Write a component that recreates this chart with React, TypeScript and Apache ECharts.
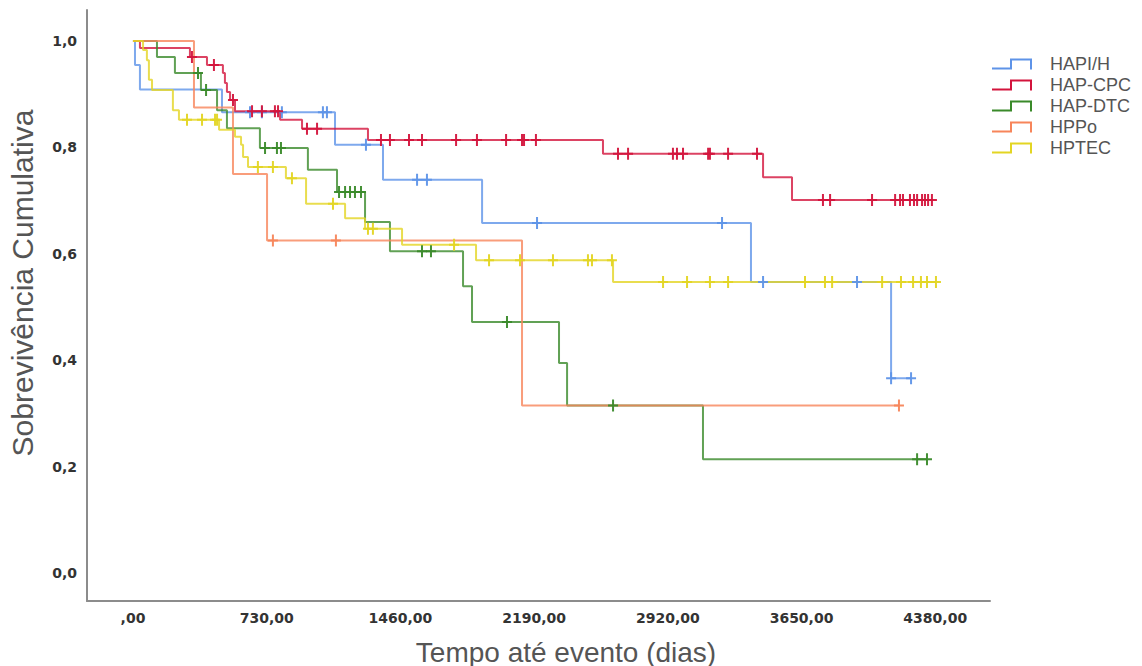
import React, { useEffect, useRef } from 'react';
import * as echarts from 'echarts';

// ---- data (days, cumulative survival) ----
const groupNames = ['HAPI/H', 'HAP-CPC', 'HAP-DTC', 'HPPo', 'HPTEC'];

const hapihTimes = [0, 11, 38, 486, 1103, 1365, 1906, 3374, 4139];
const hapihSurv = [1, 0.955, 0.909, 0.866, 0.805, 0.739, 0.658, 0.547, 0.366];
const hapihCensored = [639, 704, 813, 1037, 1059, 1272, 1551, 1605, 2206, 3216, 3440, 3953, 4139, 4248];

const hapcpcTimes = [0, 38, 311, 404, 491, 502, 513, 530, 557, 803, 923, 1283, 2566, 3440, 3598];
const hapcpcSurv = [1, 0.987, 0.97, 0.955, 0.94, 0.921, 0.904, 0.889, 0.868, 0.852, 0.835, 0.814, 0.788, 0.744, 0.701];
const hapcpcCensored = [322, 442, 546, 650, 704, 775, 792, 950, 1005, 1354, 1403, 1507, 1578, 1764, 1878, 2037, 2124, 2135, 2200, 2648, 2703, 2948, 2970, 3003, 3140, 3150, 3249, 3407, 3767, 3806, 4035, 4161, 4188, 4204, 4242, 4264, 4281, 4308, 4324, 4341, 4362];

const hapdtcTimes = [0, 131, 229, 371, 459, 513, 693, 955, 1114, 1267, 1403, 1802, 1851, 2326, 2370, 3112];
const hapdtcSurv = [1, 0.97, 0.94, 0.908, 0.87, 0.836, 0.799, 0.758, 0.716, 0.66, 0.605, 0.539, 0.472, 0.395, 0.315, 0.214];
const hapdtcCensored = [355, 399, 721, 786, 808, 1125, 1158, 1185, 1212, 1245, 1578, 1627, 2042, 2621, 4281, 4335];

const hppoTimes = [0, 333, 546, 732, 2124];
const hppoSurv = [1, 0.875, 0.75, 0.625, 0.315];
const hppoCensored = [764, 1108, 4182];

const hptecTimes = [0, 55, 76, 87, 104, 218, 251, 470, 557, 590, 601, 628, 835, 945, 1158, 1267, 1469, 1873, 2621];
const hptecSurv = [1, 0.983, 0.964, 0.927, 0.908, 0.87, 0.852, 0.833, 0.82, 0.805, 0.782, 0.763, 0.742, 0.694, 0.667, 0.647, 0.617, 0.588, 0.547];
const hptecCensored = [295, 377, 448, 459, 682, 764, 868, 1092, 1283, 1310, 1753, 1944, 2113, 2293, 2484, 2506, 2615, 2894, 3025, 3150, 3249, 3669, 3778, 3817, 4090, 4193, 4259, 4302, 4335, 4384];

const xTicks = [0, 730, 1460, 2190, 2920, 3650, 4380];
const yTicks = [0, 0.2, 0.4, 0.6, 0.8, 1.0];

const groupColors = ['#5e93e8', '#d3143c', '#3a8a2a', '#f7855a', '#e3d523'];

const groups = [
  { times: hapihTimes, surv: hapihSurv, cens: hapihCensored },
  { times: hapcpcTimes, surv: hapcpcSurv, cens: hapcpcCensored },
  { times: hapdtcTimes, surv: hapdtcSurv, cens: hapdtcCensored },
  { times: hppoTimes, surv: hppoSurv, cens: hppoCensored },
  { times: hptecTimes, surv: hptecSurv, cens: hptecCensored },
];

function survAt(times: number[], surv: number[], t: number): number {
  let v = surv[0];
  for (let i = 0; i < times.length; i++) {
    if (times[i] <= t) v = surv[i];
  }
  return v;
}

const stepIcon = 'path://M0,9L18,9L18,0L40,0L40,11L38,11L38,2L20,2L20,11L0,11Z';
const plusSymbol = 'path://M4,0L6,0L6,5L10,5L10,7L6,7L6,12L4,12L4,7L0,7L0,5L4,5Z';

export default function App() {
  const ref = useRef<HTMLDivElement>(null);

  useEffect(() => {
    if (!ref.current) return;
    const chart = echarts.init(ref.current, null, { renderer: 'svg' });

    const lineSeries = groups.map((g, i) => {
      const lastT = Math.max(g.times[g.times.length - 1], g.cens[g.cens.length - 1]);
      const data = g.times.map((t, k) => [t, g.surv[k]]);
      data.push([lastT, g.surv[g.surv.length - 1]]);
      return {
        name: groupNames[i],
        type: 'line',
        step: 'end',
        data,
        showSymbol: false,
        symbol: 'none',
        lineStyle: { color: groupColors[i], width: 2, opacity: 0.8 },
        itemStyle: { color: groupColors[i] },
        z: 2,
        silent: true,
      };
    });

    const censorSeries = groups.map((g, i) => ({
      name: groupNames[i] + ' (censurado)',
      type: 'scatter',
      data: g.cens.map((t) => [t, survAt(g.times, g.surv, t)]),
      symbol: plusSymbol,
      symbolSize: [10, 12],
      itemStyle: { color: groupColors[i], opacity: 0.95 },
      z: 3,
      silent: true,
    }));

    const tickLabelStyle = {
      margin: 10,
      fontFamily: 'DejaVu Sans',
      fontSize: 14,
      fontWeight: 'bold',
      color: '#333',
    };

    chart.setOption({
      animation: false,
      backgroundColor: '#ffffff',
      grid: { left: 87, right: 152, top: 10, bottom: 65, containLabel: false },
      xAxis: {
        type: 'value',
        min: -251,
        max: 4679,
        splitLine: { show: false },
        axisLine: { show: true, onZero: false, lineStyle: { color: '#8c8c8c', width: 2 } },
        axisTick: { show: false },
        axisLabel: {
          ...tickLabelStyle,
          customValues: xTicks,
          formatter: (v: number) => (v === 0 ? ',00' : v.toFixed(2).replace('.', ',')),
        },
      },
      yAxis: {
        type: 'value',
        min: -0.0526,
        max: 1.0583,
        splitLine: { show: false },
        axisLine: { show: true, onZero: false, lineStyle: { color: '#8c8c8c', width: 2 } },
        axisTick: { show: false },
        axisLabel: {
          ...tickLabelStyle,
          customValues: yTicks,
          formatter: (v: number) => v.toFixed(1).replace('.', ','),
        },
      },
      legend: {
        orient: 'vertical',
        left: 987,
        top: 50,
        itemWidth: 40,
        itemHeight: 12,
        itemGap: 3,
        selectedMode: false,
        itemStyle: { borderWidth: 0 },
        textStyle: {
          fontFamily: 'Liberation Sans',
          fontSize: 18,
          lineHeight: 18,
          color: '#555',
          padding: [0, 0, 0, 13],
        },
        data: groupNames.map((n, i) => ({ name: n, icon: stepIcon, itemStyle: { color: groupColors[i] } })),
      },
      graphic: [
        {
          type: 'text',
          x: 566,
          y: 652,
          style: {
            text: 'Tempo até evento (dias)',
            fontFamily: 'Liberation Sans',
            fontSize: 28,
            fill: '#555',
            align: 'center',
            verticalAlign: 'middle',
          },
        },
        {
          type: 'text',
          x: 22,
          y: 283,
          rotation: Math.PI / 2,
          style: {
            text: 'Sobrevivência Cumulativa',
            fontFamily: 'Liberation Sans',
            fontSize: 30,
            fill: '#555',
            align: 'center',
            verticalAlign: 'middle',
          },
        },
      ],
      series: [...lineSeries, ...censorSeries],
    });

    return () => chart.dispose();
  }, []);

  return (
    <div
      ref={ref}
      style={{ position: 'absolute', left: 0, top: 0, width: 1142, height: 666 }}
    />
  );
}
